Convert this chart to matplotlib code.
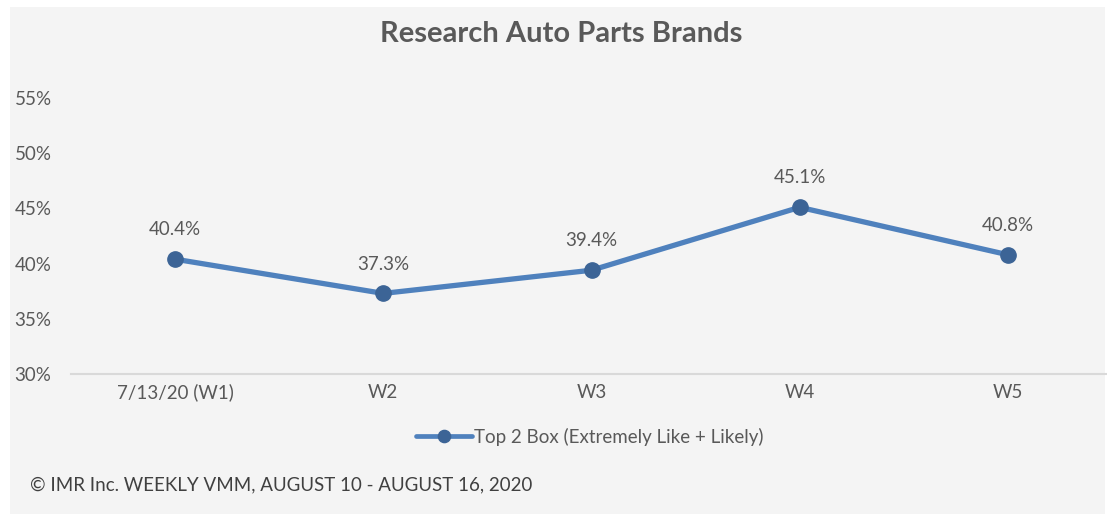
import numpy as np
import matplotlib
matplotlib.use('Agg')
import matplotlib.pyplot as plt
from matplotlib.patches import Rectangle
from matplotlib.ticker import FuncFormatter

plt.rcParams['font.family'] = ['Lato', 'DejaVu Sans']

# 数据
weeks = ['7/13/20 (W1)', 'W2', 'W3', 'W4', 'W5']
top2box = [40.4, 37.3, 39.4, 45.1, 40.8]
series_name = 'Top 2 Box (Extremely Like + Likely)'
title = 'Research Auto Parts Brands'
footer = '© IMR Inc. WEEKLY VMM, AUGUST 10 - AUGUST 16, 2020'

W, H = 1107, 517
txt = '#595959'
line_c = '#4f81bd'
mark_c = '#3c6496'
fs = 13.5

fig = plt.figure(figsize=(W / 100, H / 100), dpi=100, facecolor='white')
# 灰色背景面板（zorder 要低于坐标轴）
fig.patches.append(Rectangle((10 / W, 3 / H), (W - 12) / W, (H - 10) / H,
                             transform=fig.transFigure, facecolor='#f4f4f4',
                             edgecolor='none', zorder=-5))

# 坐标轴位置（像素换算）
left, right, top, bottom = 71, 1112, 98, 374
ax = fig.add_axes([left / W, 1 - bottom / H, (right - left) / W, (bottom - top) / H])
ax.set_facecolor('none')

x = np.arange(len(weeks))
ax.plot(x, top2box, color=line_c, linewidth=3.8, marker='o', markersize=11,
        markerfacecolor=mark_c, markeredgecolor=mark_c, label=series_name, zorder=3,
        solid_capstyle='round', clip_on=False)
for xi, v in zip(x, top2box):
    ax.annotate(f'{v:.1f}%', (xi, v), xytext=(0, 15), textcoords='offset points',
                ha='center', va='bottom', fontsize=fs, color=txt)

ax.set_xlim(-0.5, len(weeks) - 0.5)
ax.set_ylim(30, 55)
ax.set_yticks(np.arange(30, 56, 5))
ax.yaxis.set_major_formatter(FuncFormatter(lambda v, p: f'{v:.0f}%'))
ax.set_xticks(x)
ax.set_xticklabels(weeks)
ax.tick_params(axis='both', length=0, labelsize=fs, labelcolor=txt)
ax.tick_params(axis='y', pad=14)
ax.tick_params(axis='x', pad=7)
for s in ['top', 'right', 'left']:
    ax.spines[s].set_visible(False)
ax.spines['bottom'].set_color('#d9d9d9')
ax.spines['bottom'].set_linewidth(1.5)

fig.text(561 / W, 1 - 34 / H, title, ha='center', va='center', fontsize=21,
         fontweight='bold', color=txt)

leg = fig.legend(loc='center', bbox_to_anchor=(590 / W, 1 - 437 / H), frameon=False,
                 fontsize=fs, labelcolor=txt, handlelength=3.0, handletextpad=0.1,
                 markerscale=0.8)
leg.get_lines()[0].set_linewidth(3.4)

fig.text(30 / W, 1 - 485 / H, footer, ha='left', va='center', fontsize=fs, color='#404040')

plt.savefig('out.png', dpi=100)
